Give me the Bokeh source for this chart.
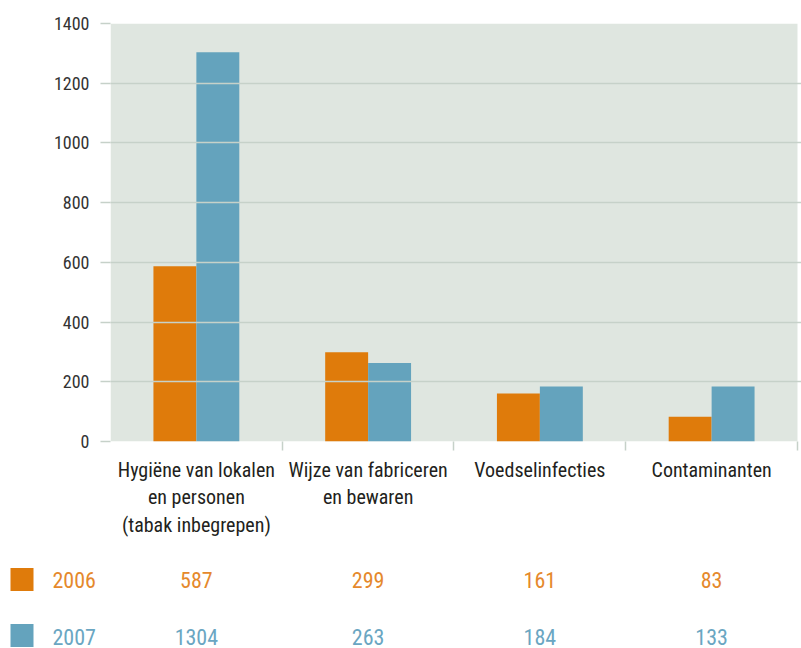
import numpy as np
from bokeh.plotting import figure
from bokeh.models import Range1d, FixedTicker, BoxAnnotation
from bokeh.layouts import column
from bokeh.embed import file_html
from bokeh.resources import INLINE
from bokeh.core.properties import value

# ---- data ----
categories = [
    "Hygiëne van lokalen\nen personen\n(tabak inbegrepen)",
    "Wijze van fabriceren\nen bewaren",
    "Voedselinfecties",
    "Contaminanten",
]
years = ["2006", "2007"]
values_2006 = [587, 299, 161, 83]
values_2007 = [1304, 263, 184, 184]   # bar heights as drawn in the picture
table_2006 = ["587", "299", "161", "83"]
table_2007 = ["1304", "263", "184", "133"]
y_ticks = [0, 200, 400, 600, 800, 1000, 1200, 1400]

# ---- style ----
FONT = "'Liberation Sans Narrow', 'Arial Narrow', 'Roboto Condensed', sans-serif"
ORANGE = "#df7b0b"
BLUE = "#64a3bd"
ORANGE_TXT = "#e5892c"
BLUE_TXT = "#6aa6c2"
GRID = "#c6d1c9"
PANEL = "#dfe6e0"

n = len(categories)
xc = np.arange(n) + 0.5
x_end = 4.0233
left_px = 110
scale = (801 - left_px) / x_end  # px per category unit

MAIN_H = 552
p = figure(width=801, height=MAIN_H, x_range=Range1d(0, x_end), y_range=Range1d(0, 1400),
           output_backend="svg", toolbar_location=None,
           min_border_left=left_px, min_border_right=0, min_border_top=23,
           min_border_bottom=MAIN_H - 441)
p.frame_align = False
p.background_fill_color = "white"
p.border_fill_color = "white"
p.outline_line_color = None

p.add_layout(BoxAnnotation(left=0, right=n, bottom=0, top=1400, fill_color=PANEL, fill_alpha=1,
                           line_color=None, level="image"))

p.vbar(x=xc - 0.125, top=values_2006, width=0.25, fill_color=ORANGE, line_color=None)
p.vbar(x=xc + 0.125, top=values_2007, width=0.25, fill_color=BLUE, line_color=None)

p.xgrid.visible = False
p.ygrid.ticker = FixedTicker(ticks=y_ticks)
p.ygrid.grid_line_color = GRID
p.ygrid.grid_line_width = 1.5
p.ygrid.level = "overlay"

ya = p.yaxis[0]
ya.ticker = FixedTicker(ticks=y_ticks)
ya.axis_line_color = None
ya.major_tick_out = 10
ya.major_tick_in = 0
ya.major_tick_line_color = GRID
ya.major_tick_line_width = 1.5
ya.minor_tick_line_color = None
ya.major_label_text_font = FONT
ya.major_label_text_font_size = "18px"
ya.major_label_text_color = "#333333"
ya.major_label_standoff = 11

xa = p.xaxis[0]
xa.ticker = FixedTicker(ticks=list(xc), minor_ticks=[1, 2, 3, 4])
xa.major_label_overrides = {float(x): c for x, c in zip(xc, categories)}
xa.axis_line_color = None
xa.major_tick_line_color = None
xa.major_tick_out = 0
xa.major_tick_in = 0
xa.minor_tick_out = 9
xa.minor_tick_in = 0
xa.minor_tick_line_color = GRID
xa.minor_tick_line_width = 1.5
xa.major_label_standoff = 7
xa.major_label_text_font = FONT
xa.major_label_text_font_size = "20px"
xa.major_label_text_color = "#231f20"
xa.major_label_text_line_height = 1.15

# ---- table below ----
TAB_H = 648 - MAIN_H
t = figure(width=801, height=TAB_H, x_range=Range1d(-left_px / scale, x_end), y_range=Range1d(0, TAB_H),
           output_backend="svg", toolbar_location=None, min_border=0)
t.frame_align = False
t.axis.visible = False
t.grid.visible = False
t.outline_line_color = None
t.background_fill_color = "white"
t.border_fill_color = "white"

row_y = [69, 12]
sq_x = (21.5 - left_px) / scale
yr_x = (52 - left_px) / scale
t.rect(x=[sq_x, sq_x], y=[69, 13], width=23, height=23, width_units="screen", height_units="screen",
       fill_color=[ORANGE, BLUE], line_color=None)
t.text(x=[yr_x, yr_x], y=row_y, text=years, text_align="left", text_baseline="middle",
       text_font=value(FONT), text_font_size="22px", text_color=[ORANGE_TXT, BLUE_TXT])
t.text(x=xc, y=[row_y[0]] * n, text=table_2006, text_align="center", text_baseline="middle",
       text_font=value(FONT), text_font_size="22px", text_color=ORANGE_TXT)
t.text(x=xc, y=[row_y[1]] * n, text=table_2007, text_align="center", text_baseline="middle",
       text_font=value(FONT), text_font_size="22px", text_color=BLUE_TXT)

layout = column(p, t, spacing=0)
open("out.html", "w").write(file_html(layout, INLINE))
